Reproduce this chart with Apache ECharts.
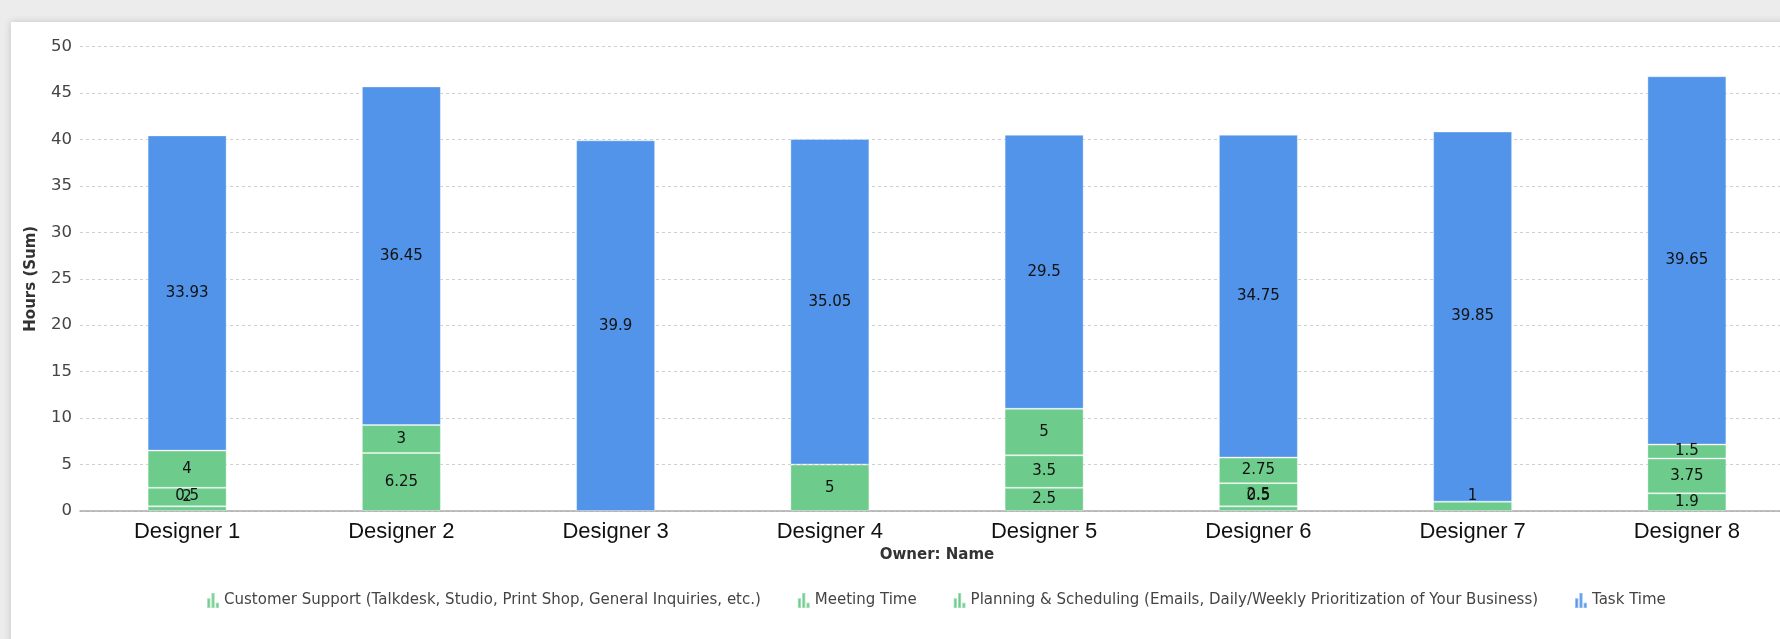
<!DOCTYPE html>
<html>
<head>
<meta charset="utf-8">
<style>
  html, body { margin: 0; padding: 0; background: #ececec; overflow: hidden; width: 1780px; height: 639px; }
  #card { position: absolute; left: 11px; top: 22px; width: 1790px; height: 640px; background: #fff; box-shadow: 0 0 7px rgba(0,0,0,0.18); }
  #main { position: absolute; left: 0; top: 0; width: 1872px; height: 639px; }
</style>
<script src="https://cdn.jsdelivr.net/npm/echarts@6/dist/echarts.min.js"></script>
</head>
<body>
<div id="card"></div>
<div id="main"></div>
<script>
const categories = ['Designer 1', 'Designer 2', 'Designer 3', 'Designer 4', 'Designer 5', 'Designer 6', 'Designer 7', 'Designer 8'];
const customerSupport = [0.5, 6.25, null, 5, 2.5, 0.5, 1, 1.9];
const meetingTime = [2, 3, null, null, 3.5, 2.5, null, 3.75];
const planningScheduling = [4, null, null, null, 5, 2.75, null, 1.5];
const taskTime = [33.93, 36.45, 39.9, 35.05, 29.5, 34.75, 39.85, 39.65];
const yTicks = { min: 0, max: 50, interval: 5 };
const seriesNames = [
  'Customer Support (Talkdesk, Studio, Print Shop, General Inquiries, etc.)',
  'Meeting Time',
  'Planning & Scheduling (Emails, Daily/Weekly Prioritization of Your Business)',
  'Task Time'
];

const GREEN = '#6dcb8b';
const BLUE = '#5294e9';
const ICON = 'path://M0,5h3v9h-3z M4,0h3v14h-3z M8,9h3v5h-3z';
const FONT = '"DejaVu Sans", "Lucida Grande", sans-serif';

function toData(arr) {
  return arr.map(v => {
    if (v === null) return '-';
    if (v < 1.5) {
      return { value: v, label: { position: 'insideBottom', distance: 7 } };
    }
    return v;
  });
}

function makeSeries(name, arr, color) {
  return {
    name: name,
    type: 'bar',
    stack: 'total',
    barWidth: 79,
    data: toData(arr),
    itemStyle: { color: color, borderColor: 'rgba(255,255,255,0.35)', borderWidth: 1 },
    label: {
      show: true,
      position: 'inside',
      color: '#111',
      fontFamily: FONT,
      fontSize: 15
    },
    emphasis: { disabled: true }
  };
}

const chart = echarts.init(document.getElementById('main'), null, { renderer: 'canvas' });
chart.setOption({
  animation: false,
  backgroundColor: 'transparent',
  grid: { left: 80, right: 78, top: 46.5, bottom: 128, outerBoundsMode: 'none', containLabel: false },
  legend: {
    bottom: 25,
    left: 'center',
    itemGap: 36,
    itemWidth: 12,
    itemHeight: 15,
    textStyle: { color: '#444', fontFamily: FONT, fontSize: 15 },
    data: [
      { name: seriesNames[0], icon: ICON, itemStyle: { color: GREEN } },
      { name: seriesNames[1], icon: ICON, itemStyle: { color: GREEN } },
      { name: seriesNames[2], icon: ICON, itemStyle: { color: GREEN } },
      { name: seriesNames[3], icon: ICON, itemStyle: { color: BLUE } }
    ]
  },
  xAxis: {
    type: 'category',
    data: categories,
    name: 'Owner: Name',
    nameLocation: 'middle',
    nameGap: 35,
    nameTextStyle: { color: '#333', fontFamily: FONT, fontSize: 15, fontWeight: 'bold' },
    axisLine: { lineStyle: { color: '#aaa', width: 1.5 } },
    axisTick: { show: false },
    axisLabel: { color: '#111', fontFamily: '"Liberation Sans", Arial, sans-serif', fontSize: 22, margin: 10 },
    splitLine: { show: false }
  },
  yAxis: {
    type: 'value',
    min: yTicks.min,
    max: yTicks.max,
    interval: yTicks.interval,
    name: 'Hours (Sum)',
    nameLocation: 'middle',
    nameGap: 41,
    nameTextStyle: { color: '#333', fontFamily: FONT, fontSize: 15, fontWeight: 'bold' },
    axisLine: { show: false },
    axisTick: { show: false },
    axisLabel: { color: '#444', fontFamily: FONT, fontSize: 16.5, margin: 8 },
    splitLine: { lineStyle: { color: '#cfcfcf', type: [3, 3], width: 1 } }
  },
  series: [
    makeSeries(seriesNames[0], customerSupport, GREEN),
    makeSeries(seriesNames[1], meetingTime, GREEN),
    makeSeries(seriesNames[2], planningScheduling, GREEN),
    makeSeries(seriesNames[3], taskTime, BLUE)
  ]
});
</script>
</body>
</html>
